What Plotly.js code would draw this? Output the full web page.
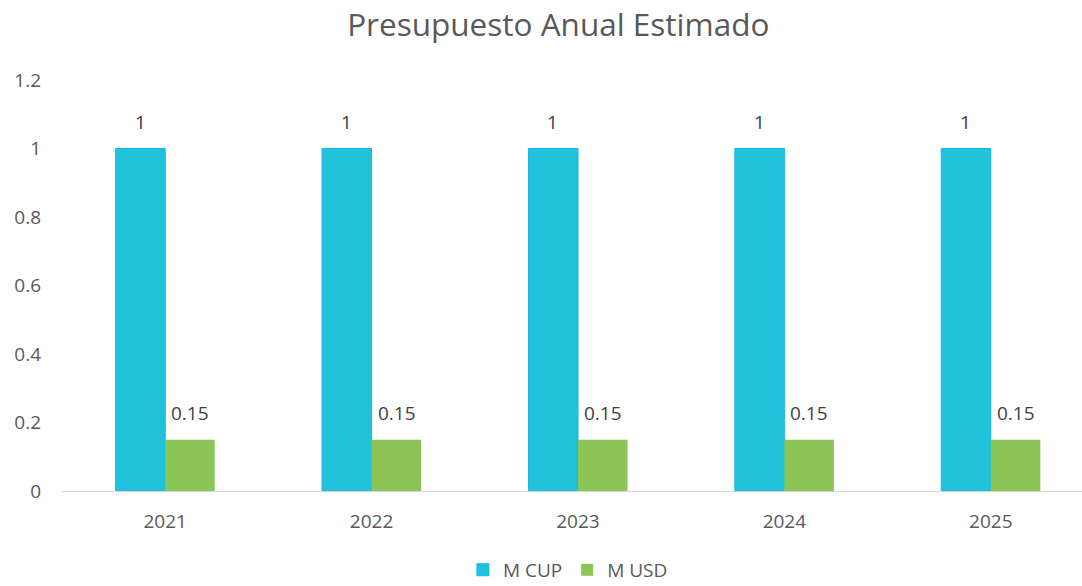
<!DOCTYPE html>
<html>
<head>
<meta charset="utf-8">
<script src="https://cdn.plot.ly/plotly-3.0.1.min.js"></script>
<style>html,body{margin:0;padding:0;background:#fff;}#chart{width:1082px;height:586px;}</style>
</head>
<body>
<div id="chart"></div>
<script>
const years = ['2021', '2022', '2023', '2024', '2025'];
const seriesNames = ['M CUP', 'M USD'];
const mCup = [1, 1, 1, 1, 1];
const mUsd = [0.15, 0.15, 0.15, 0.15, 0.15];
const yTicks = [0, 0.2, 0.4, 0.6, 0.8, 1, 1.2];
const yTickText = ['0', '0.2', '0.4', '0.6', '0.8', '1', '1.2'];

const FONT = 'Open Sans';
const traces = [
  {type: 'bar', name: seriesNames[0], x: years, y: mCup,
   marker: {color: '#20c3d9', line: {color: '#13b5ef', width: 1}}, hoverinfo: 'none'},
  {type: 'bar', name: seriesNames[1], x: years, y: mUsd,
   marker: {color: '#8bc556', line: {color: '#8bc556', width: 0}}, hoverinfo: 'none'}
];

const annotations = [];
[mCup, mUsd].forEach(function (vals, si) {
  vals.forEach(function (v, i) {
    annotations.push({x: i, y: v, xref: 'x', yref: 'y', text: String(v),
      showarrow: false, xshift: si === 0 ? -25 : 25, yshift: 12, yanchor: 'bottom',
      font: {family: FONT, size: 19, color: '#404040'}});
  });
});

const layout = {
  width: 1082, height: 586,
  margin: {l: 62, r: 0, t: 80, b: 95, autoexpand: false},
  paper_bgcolor: '#fff', plot_bgcolor: '#fff',
  title: {text: 'Presupuesto Anual Estimado', x: 0.516, xanchor: 'center', y: 0.957, yanchor: 'middle',
          font: {family: FONT, size: 31.5, color: '#595959'}},
  barmode: 'group', bargap: 0.52, bargroupgap: 0,
  xaxis: {type: 'category', range: [-0.5, 4.442], showgrid: false, showline: true,
          linecolor: '#d9d9d9', linewidth: 1, ticks: '', zeroline: false,
          tickfont: {family: FONT, size: 19, color: '#595959'}, ticklabelstandoff: 13},
  yaxis: {range: [0, 1.2], tickvals: yTicks, ticktext: yTickText, showgrid: false,
          showline: false, zeroline: false, ticks: '',
          tickfont: {family: FONT, size: 19, color: '#595959'}, ticklabelstandoff: 20},
  showlegend: true,
  legend: {orientation: 'h', x: 0.496, xanchor: 'center', y: -0.192, yanchor: 'middle',
           font: {family: FONT, size: 19, color: '#595959'}, itemwidth: 30, traceorder: 'normal'},
  annotations: annotations
};

Plotly.newPlot('chart', traces, layout, {displayModeBar: false, staticPlot: true});
</script>
</body>
</html>
